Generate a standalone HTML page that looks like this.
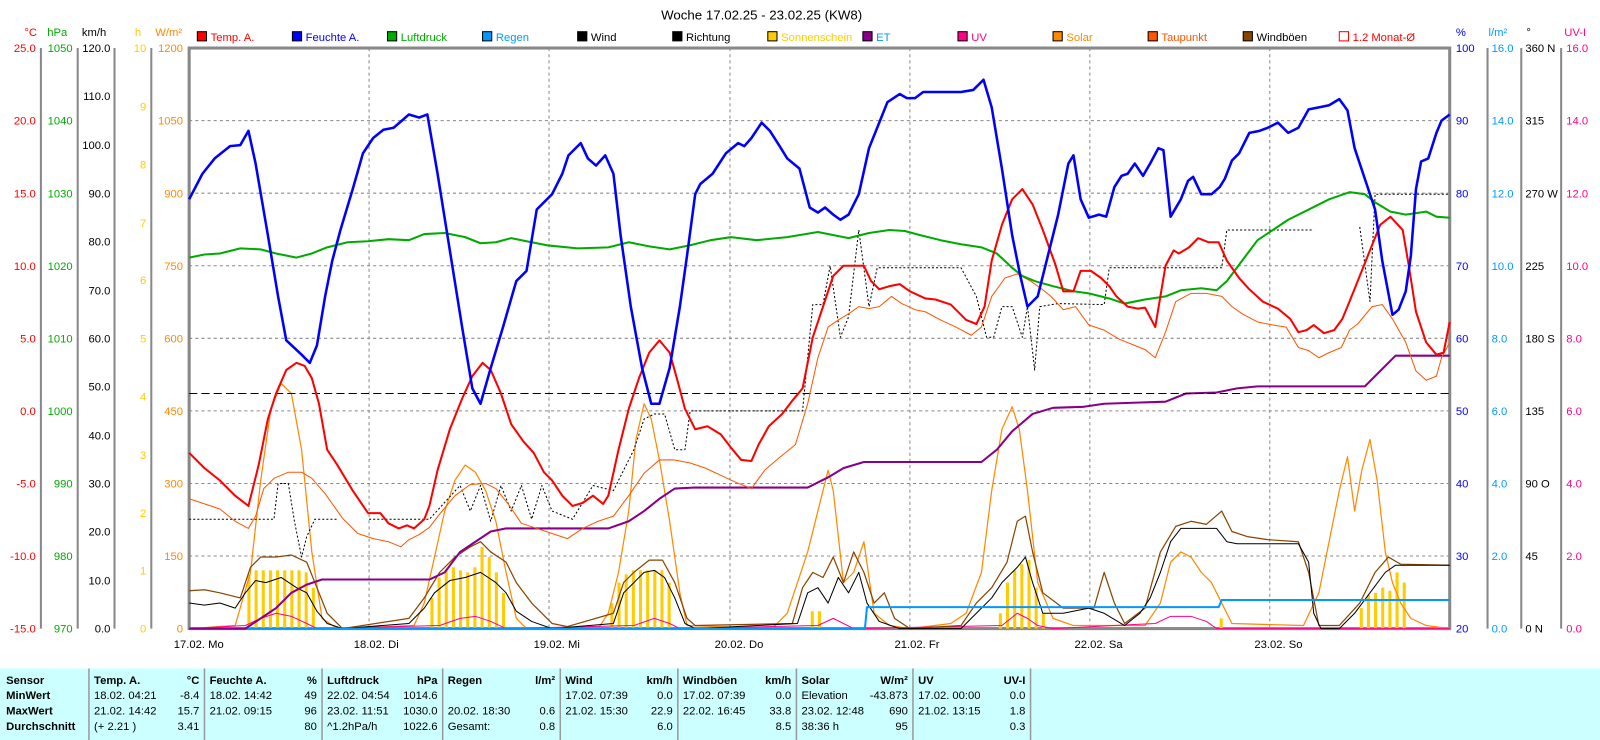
<!DOCTYPE html>
<html><head><meta charset="utf-8"><style>
html,body{margin:0;padding:0;background:#fff;}
svg{display:block;font-family:"Liberation Sans",sans-serif;}
</style></head><body>
<svg width="1600" height="740" viewBox="0 0 1565 724" preserveAspectRatio="none" xmlns="http://www.w3.org/2000/svg">
<rect width="1565" height="724" fill="#fff"/>
<text x="745" y="19" font-size="13" text-anchor="middle">Woche 17.02.25 - 23.02.25 (KW8)</text>
<!-- grid -->
<g stroke="#888" stroke-dasharray="3,3" stroke-width="1">
<line x1="185" y1="118" x2="1418" y2="118"/><line x1="185" y1="189" x2="1418" y2="189"/><line x1="185" y1="260" x2="1418" y2="260"/><line x1="185" y1="331" x2="1418" y2="331"/><line x1="185" y1="402" x2="1418" y2="402"/><line x1="185" y1="473" x2="1418" y2="473"/><line x1="185" y1="544" x2="1418" y2="544"/>
<line x1="361" y1="47" x2="361" y2="615"/><line x1="537" y1="47" x2="537" y2="615"/><line x1="714" y1="47" x2="714" y2="615"/><line x1="890" y1="47" x2="890" y2="615"/><line x1="1066" y1="47" x2="1066" y2="615"/><line x1="1242" y1="47" x2="1242" y2="615"/>
</g>
<rect x="185" y="47" width="1233" height="568" fill="none" stroke="#888" stroke-width="3"/>
<!-- left axes -->
<g stroke="#888" stroke-width="2"><line x1="40" y1="47" x2="40" y2="615"/><line x1="76" y1="47" x2="76" y2="615"/><line x1="112" y1="47" x2="112" y2="615"/><line x1="148" y1="47" x2="148" y2="615"/>
<line x1="1455" y1="47" x2="1455" y2="615"/><line x1="1488" y1="47" x2="1488" y2="615"/><line x1="1527" y1="47" x2="1527" y2="615"/></g>
<g font-size="11">
<text x="30" y="35" fill="#f00" text-anchor="middle">°C</text><text x="56" y="35" fill="#0a0" text-anchor="middle">hPa</text><text x="92" y="35" text-anchor="middle">km/h</text><text x="135" y="35" fill="#fc0" text-anchor="middle">h</text><text x="165" y="35" fill="#f80" text-anchor="middle">W/m²</text>
<text x="1424" y="35" fill="#00f">%</text><text x="1456" y="35" fill="#09f">l/m²</text><text x="1493" y="35">°</text><text x="1530" y="35" fill="#f08">UV-I</text>
</g>
<g font-size="11" text-anchor="end">
<g fill="#f00"><text x="35" y="51">25.0</text><text x="35" y="122">20.0</text><text x="35" y="193">15.0</text><text x="35" y="264">10.0</text><text x="35" y="335">5.0</text><text x="35" y="406">0.0</text><text x="35" y="477">-5.0</text><text x="35" y="548">-10.0</text><text x="35" y="619">-15.0</text></g>
<g fill="#0a0"><text x="71" y="51">1050</text><text x="71" y="122">1040</text><text x="71" y="193">1030</text><text x="71" y="264">1020</text><text x="71" y="335">1010</text><text x="71" y="406">1000</text><text x="71" y="477">990</text><text x="71" y="548">980</text><text x="71" y="619">970</text></g>
<g><text x="108" y="51">120.0</text><text x="108" y="98">110.0</text><text x="108" y="146">100.0</text><text x="108" y="193">90.0</text><text x="108" y="240">80.0</text><text x="108" y="288">70.0</text><text x="108" y="335">60.0</text><text x="108" y="382">50.0</text><text x="108" y="430">40.0</text><text x="108" y="477">30.0</text><text x="108" y="524">20.0</text><text x="108" y="572">10.0</text><text x="108" y="619">0.0</text></g>
<g fill="#fc0"><text x="143" y="51">10</text><text x="143" y="108">9</text><text x="143" y="165">8</text><text x="143" y="222">7</text><text x="143" y="278">6</text><text x="143" y="335">5</text><text x="143" y="392">4</text><text x="143" y="449">3</text><text x="143" y="506">2</text><text x="143" y="562">1</text><text x="143" y="619">0</text></g>
<g fill="#f80"><text x="179" y="51">1200</text><text x="179" y="122">1050</text><text x="179" y="193">900</text><text x="179" y="264">750</text><text x="179" y="335">600</text><text x="179" y="406">450</text><text x="179" y="477">300</text><text x="179" y="548">150</text><text x="179" y="619">0</text></g>
</g>
<g font-size="11">
<g fill="#00f"><text x="1424" y="51">100</text><text x="1424" y="122">90</text><text x="1424" y="193">80</text><text x="1424" y="264">70</text><text x="1424" y="335">60</text><text x="1424" y="406">50</text><text x="1424" y="477">40</text><text x="1424" y="548">30</text><text x="1424" y="619">20</text></g>
<g fill="#09f"><text x="1459" y="51">16.0</text><text x="1459" y="122">14.0</text><text x="1459" y="193">12.0</text><text x="1459" y="264">10.0</text><text x="1459" y="335">8.0</text><text x="1459" y="406">6.0</text><text x="1459" y="477">4.0</text><text x="1459" y="548">2.0</text><text x="1459" y="619">0.0</text></g>
<g><text x="1492" y="51">360 N</text><text x="1492" y="122">315</text><text x="1492" y="193">270 W</text><text x="1492" y="264">225</text><text x="1492" y="335">180 S</text><text x="1492" y="406">135</text><text x="1492" y="477">90  O</text><text x="1492" y="548">45</text><text x="1492" y="619">0   N</text></g>
<g fill="#f08"><text x="1532" y="51">16.0</text><text x="1532" y="122">14.0</text><text x="1532" y="193">12.0</text><text x="1532" y="264">10.0</text><text x="1532" y="335">8.0</text><text x="1532" y="406">6.0</text><text x="1532" y="477">4.0</text><text x="1532" y="548">2.0</text><text x="1532" y="619">0.0</text></g>
</g>
<!-- legend -->
<g font-size="11" stroke-width="1">
<rect x="193" y="31" width="9" height="9" fill="#f00" stroke="#000"/><text x="206" y="40" fill="#f00">Temp. A.</text>
<rect x="286" y="31" width="9" height="9" fill="#00f" stroke="#000"/><text x="299" y="40" fill="#00f">Feuchte A.</text>
<rect x="379" y="31" width="9" height="9" fill="#0a0" stroke="#000"/><text x="392" y="40" fill="#0a0">Luftdruck</text>
<rect x="472" y="31" width="9" height="9" fill="#09f" stroke="#000"/><text x="485" y="40" fill="#09f">Regen</text>
<rect x="565" y="31" width="9" height="9" fill="#000" stroke="#000"/><text x="578" y="40">Wind</text>
<rect x="658" y="31" width="9" height="9" fill="#000" stroke="#000"/><text x="671" y="40">Richtung</text>
<rect x="751" y="31" width="9" height="9" fill="#fc0" stroke="#000"/><text x="764" y="40" fill="#fc0">Sonnenschein</text>
<rect x="844" y="31" width="9" height="9" fill="#808" stroke="#000"/><text x="857" y="40" fill="#09f">ET</text>
<rect x="937" y="31" width="9" height="9" fill="#f08" stroke="#000"/><text x="950" y="40" fill="#f08">UV</text>
<rect x="1030" y="31" width="9" height="9" fill="#f80" stroke="#000"/><text x="1043" y="40" fill="#f80">Solar</text>
<rect x="1123" y="31" width="9" height="9" fill="#f50" stroke="#000"/><text x="1136" y="40" fill="#f50">Taupunkt</text>
<rect x="1216" y="31" width="9" height="9" fill="#840" stroke="#000"/><text x="1229" y="40">Windböen</text>
<rect x="1310" y="31" width="9" height="9" fill="none" stroke="#f00"/><text x="1323" y="40" fill="#f00">1.2 Monat-Ø</text>
</g>
<!-- x labels -->
<g font-size="11"><text x="170" y="634">17.02.  Mo</text><text x="346" y="634">18.02.  Di</text><text x="522" y="634">19.02.  Mi</text><text x="699" y="634">20.02.  Do</text><text x="875" y="634">21.02.  Fr</text><text x="1051" y="634">22.02.  Sa</text><text x="1227" y="634">23.02.  So</text></g>
<!-- sunshine bars -->
<g fill="#fc0">
<rect x="242" y="562" width="3" height="53"/><rect x="249" y="558" width="3" height="57"/><rect x="256" y="558" width="3" height="57"/><rect x="263" y="558" width="3" height="57"/><rect x="270" y="558" width="3" height="57"/><rect x="277" y="558" width="3" height="57"/><rect x="284" y="558" width="3" height="57"/><rect x="291" y="558" width="3" height="57"/><rect x="298" y="560" width="3" height="55"/><rect x="305" y="575" width="3" height="40"/>
<rect x="421" y="585" width="3" height="30"/><rect x="428" y="565" width="3" height="50"/><rect x="435" y="558" width="3" height="57"/><rect x="442" y="555" width="3" height="60"/><rect x="449" y="558" width="3" height="57"/><rect x="456" y="560" width="3" height="55"/><rect x="463" y="555" width="3" height="60"/><rect x="470" y="535" width="3" height="80"/><rect x="477" y="545" width="3" height="70"/><rect x="484" y="560" width="3" height="55"/><rect x="491" y="580" width="3" height="35"/>
<rect x="597" y="590" width="3" height="25"/><rect x="604" y="570" width="3" height="45"/><rect x="611" y="562" width="3" height="53"/><rect x="618" y="558" width="3" height="57"/><rect x="625" y="558" width="3" height="57"/><rect x="632" y="558" width="3" height="57"/><rect x="639" y="558" width="3" height="57"/><rect x="646" y="558" width="3" height="57"/><rect x="653" y="570" width="3" height="45"/>
<rect x="793" y="598" width="3" height="17"/><rect x="800" y="598" width="3" height="17"/>
<rect x="977" y="600" width="3" height="15"/><rect x="984" y="570" width="3" height="45"/><rect x="991" y="558" width="3" height="57"/><rect x="998" y="552" width="3" height="63"/><rect x="1005" y="548" width="3" height="67"/><rect x="1012" y="575" width="3" height="40"/><rect x="1019" y="600" width="3" height="15"/>
<rect x="1193" y="605" width="3" height="10"/>
<rect x="1330" y="595" width="3" height="20"/><rect x="1337" y="582" width="3" height="33"/><rect x="1344" y="580" width="3" height="35"/><rect x="1351" y="575" width="3" height="40"/><rect x="1358" y="578" width="3" height="37"/><rect x="1365" y="560" width="3" height="55"/><rect x="1372" y="570" width="3" height="45"/>
</g>
<g fill="none" stroke-linejoin="round">
<!-- solar -->
<polyline stroke="#f80" stroke-width="1.2" points="185,615 230,612 245,560 255,470 265,400 275,375 285,385 295,440 305,540 315,605 330,615 405,612 415,590 425,545 435,500 445,470 455,455 465,462 475,480 485,510 495,560 505,605 515,615 585,615 595,600 605,560 615,500 622,430 630,395 637,410 645,450 655,510 665,580 672,612 755,615 770,600 790,540 800,500 810,460 815,480 825,570 835,560 845,530 855,600 870,612 890,615 930,610 945,600 960,560 970,480 980,420 990,398 997,420 1005,480 1015,570 1030,605 1050,612 1120,612 1135,590 1145,550 1155,540 1165,545 1175,560 1185,570 1195,590 1205,610 1275,612 1290,580 1300,530 1310,480 1318,447 1325,500 1332,460 1340,430 1347,470 1355,540 1362,570 1370,590 1380,605 1395,612 1418,615"/>
<!-- UV -->
<polyline stroke="#f08" stroke-width="1" points="185,615 240,612 255,605 270,600 285,603 300,610 310,615 430,612 450,605 465,603 480,608 495,615 620,612 640,605 655,610 665,615 800,612 815,605 825,610 835,615 980,612 995,600 1005,605 1015,612 1030,615 1130,610 1145,603 1165,603 1180,608 1190,615 1418,615"/>
<!-- gusts -->
<polyline stroke="#840" stroke-width="1.2" points="185,578 200,577 215,580 235,585 245,555 255,545 270,545 285,543 300,550 310,575 320,600 335,615 400,605 415,585 430,560 445,545 460,535 470,530 480,540 495,550 505,570 520,590 540,610 555,613 600,600 610,570 620,560 635,548 648,548 660,570 672,605 680,612 775,610 785,575 795,560 805,565 815,545 825,570 835,540 845,560 855,590 865,580 875,605 890,615 940,612 955,590 970,575 985,550 995,510 1003,505 1010,540 1020,580 1040,595 1070,595 1080,560 1090,590 1100,610 1120,595 1135,540 1150,515 1165,510 1180,513 1195,500 1205,520 1220,525 1240,528 1270,530 1280,560 1290,612 1310,612 1330,590 1345,560 1358,545 1370,552 1418,553"/>
<!-- wind -->
<polyline stroke="#000" stroke-width="1" points="185,590 200,592 215,590 230,595 240,580 250,568 260,570 275,565 290,575 300,580 310,598 320,610 335,615 400,610 415,595 425,580 440,568 455,565 470,560 485,570 495,580 505,598 520,608 540,615 600,610 610,580 620,570 630,560 640,558 650,565 660,585 670,610 680,615 780,610 790,580 800,575 810,590 820,565 830,580 840,560 848,590 860,608 880,615 940,615 955,600 970,585 980,570 995,555 1003,545 1010,570 1020,600 1040,600 1065,595 1080,600 1100,612 1115,600 1125,585 1135,560 1145,530 1155,517 1190,517 1200,530 1210,532 1270,532 1280,550 1285,600 1292,615 1310,615 1325,600 1340,580 1355,560 1365,553 1418,553"/>
<!-- rain -->
<polyline stroke="#09f" stroke-width="2" points="185,615 846,615 848,594 1192,594 1195,587 1418,587"/>
<!-- ET -->
<polyline stroke="#808" stroke-width="2" points="185,615 240,615 255,605 270,595 285,580 300,572 315,567 420,567 435,560 450,540 465,530 480,520 495,517 595,517 615,510 630,500 645,488 660,478 680,477 790,477 810,467 825,458 845,452 960,452 975,440 990,422 1010,405 1030,399 1060,398 1080,395 1140,393 1160,385 1190,384 1210,380 1230,378 1335,378 1350,363 1365,348 1418,348"/>
<!-- direction -->
<polyline stroke="#000" stroke-width="1" stroke-dasharray="2,2" points="185,508 268,508 272,473 282,473 288,510 295,545 300,525 308,508 330,508"/>
<polyline stroke="#000" stroke-width="1" stroke-dasharray="2,2" points="361,508 420,508 450,475 460,500 470,475 480,510 490,475 500,500 510,475 520,508 530,475 540,500 560,508 580,475 600,480 620,440 630,410 640,405 650,405 660,440 670,440 675,402 785,402 795,298 805,298 812,260 822,330 830,310 840,225 850,300 858,262 940,262 955,290 965,330 972,330 980,300 990,300 1000,330 1005,300 1012,362 1017,300 1035,297 1080,298 1085,262 1195,262 1200,225 1285,225"/>
<polyline stroke="#000" stroke-width="1" stroke-dasharray="2,2" points="1330,222 1340,295 1345,190 1418,190"/>
<!-- monthly avg -->
<line x1="185" y1="385" x2="1418" y2="385" stroke="#000" stroke-dasharray="8,4"/>
<!-- dew point -->
<polyline stroke="#f50" stroke-width="1" points="185,488 200,493 215,498 230,510 243,517 250,505 258,478 268,468 282,462 295,462 305,468 318,483 335,507 350,522 365,527 380,530 392,535 400,528 410,523 420,516 430,503 445,485 460,474 475,473 485,478 497,493 510,512 525,517 540,522 555,527 570,517 585,510 600,505 615,485 630,463 645,450 660,450 675,453 690,458 705,465 720,472 735,478 748,460 762,448 778,435 790,395 800,350 810,320 820,313 830,307 840,300 850,302 860,300 872,290 882,297 895,303 905,305 920,313 935,320 950,328 960,320 970,290 983,272 995,268 1008,275 1018,282 1028,290 1040,303 1052,300 1065,318 1080,323 1095,332 1110,338 1120,342 1130,350 1140,325 1150,295 1165,287 1180,287 1195,290 1205,300 1215,307 1230,315 1245,318 1258,320 1270,340 1280,343 1290,350 1300,345 1312,340 1320,323 1328,317 1342,300 1352,298 1362,312 1375,335 1385,363 1395,372 1405,368 1410,350 1418,335"/>
<!-- pressure -->
<polyline stroke="#0a0" stroke-width="2" points="185,252 200,249 215,248 235,243 255,244 270,248 290,252 305,248 320,242 340,237 360,236 380,234 400,235 415,229 435,228 455,232 470,238 485,237 500,233 515,236 535,240 565,243 595,242 615,237 635,241 655,244 675,240 695,235 715,232 740,235 770,232 800,227 830,233 850,228 870,225 885,226 900,230 920,235 940,239 960,242 975,248 990,262 1000,270 1012,275 1030,280 1050,285 1065,287 1085,292 1100,297 1120,293 1140,290 1155,284 1175,282 1190,284 1200,275 1215,255 1230,235 1245,225 1260,215 1280,205 1300,195 1320,188 1335,190 1345,198 1360,207 1375,210 1395,207 1405,212 1418,213"/>
<!-- temp -->
<polyline stroke="#f00" stroke-width="2" points="185,443 200,458 215,470 230,485 243,495 253,455 262,410 270,385 280,362 290,355 298,358 305,370 312,395 320,440 330,455 345,480 360,502 372,502 380,512 390,517 398,514 405,517 415,508 420,495 428,460 440,420 452,390 462,368 472,355 480,362 490,385 500,415 512,432 522,443 532,462 540,470 550,485 560,495 570,492 580,485 590,493 595,485 605,440 615,400 625,370 635,345 645,333 655,345 662,370 670,400 680,420 692,417 705,425 715,438 725,450 735,451 742,435 752,417 765,405 775,392 785,380 795,330 805,300 815,270 825,260 845,260 852,275 860,283 870,280 880,278 890,285 905,292 915,293 930,298 945,313 955,317 963,300 970,255 980,220 990,195 1000,185 1010,200 1020,225 1032,258 1040,285 1050,285 1057,265 1067,265 1077,272 1085,280 1092,290 1103,300 1113,302 1120,301 1130,320 1140,260 1148,245 1153,248 1163,242 1172,233 1182,237 1192,237 1200,255 1212,272 1222,283 1235,295 1250,302 1262,312 1270,325 1278,323 1285,318 1295,326 1305,323 1313,312 1320,295 1330,270 1340,245 1350,220 1360,212 1372,225 1378,260 1385,305 1395,335 1405,347 1412,345 1418,315"/>
<!-- humidity -->
<polyline stroke="#00f" stroke-width="2.5" points="185,195 198,170 210,155 225,143 235,142 243,128 250,160 262,230 272,290 280,333 295,347 303,355 310,338 318,290 325,255 333,225 345,185 355,150 365,135 375,127 385,125 392,119 400,112 410,115 418,112 428,170 440,245 452,320 462,380 470,395 480,360 492,320 505,275 515,265 525,205 540,190 550,170 556,152 568,140 575,155 583,162 592,152 600,170 607,230 617,300 628,360 637,395 645,395 655,360 665,300 672,250 680,190 685,180 697,170 710,150 722,140 728,143 735,135 745,120 753,128 762,142 770,155 782,165 792,203 800,208 807,203 815,210 822,215 830,210 840,190 850,145 860,120 868,100 880,92 887,96 895,96 903,90 940,90 952,88 962,78 970,105 980,165 990,230 998,270 1005,300 1015,290 1025,250 1035,210 1045,160 1050,152 1057,195 1065,213 1075,210 1082,212 1090,183 1097,172 1103,170 1110,160 1118,172 1125,160 1133,145 1138,147 1145,212 1155,195 1162,177 1167,173 1175,190 1185,190 1193,183 1198,175 1205,157 1212,150 1222,130 1232,128 1240,125 1250,120 1260,130 1270,125 1280,107 1290,105 1300,103 1310,97 1318,108 1325,145 1335,175 1345,205 1352,255 1362,308 1368,303 1375,285 1380,250 1385,185 1390,158 1397,155 1405,130 1410,118 1418,112"/>
</g>
<!-- table -->
<rect x="0" y="654" width="1565" height="70" fill="#ccffff"/>
<g stroke="#999" stroke-width="1.5"><line x1="87" y1="654" x2="87" y2="724"/><line x1="200" y1="654" x2="200" y2="724"/><line x1="315" y1="654" x2="315" y2="724"/><line x1="433" y1="654" x2="433" y2="724"/><line x1="548" y1="654" x2="548" y2="724"/><line x1="663" y1="654" x2="663" y2="724"/><line x1="779" y1="654" x2="779" y2="724"/><line x1="893" y1="654" x2="893" y2="724"/><line x1="1008" y1="654" x2="1008" y2="724"/></g>
<g font-size="11">
<g font-weight="bold"><text x="6" y="669">Sensor</text><text x="6" y="684">MinWert</text><text x="6" y="699">MaxWert</text><text x="6" y="714">Durchschnitt</text>
<text x="92" y="669">Temp. A.</text><text x="205" y="669">Feuchte A.</text><text x="320" y="669">Luftdruck</text><text x="438" y="669">Regen</text><text x="553" y="669">Wind</text><text x="668" y="669">Windböen</text><text x="784" y="669">Solar</text><text x="898" y="669">UV</text>
<g text-anchor="end"><text x="195" y="669">°C</text><text x="310" y="669">%</text><text x="428" y="669">hPa</text><text x="543" y="669">l/m²</text><text x="658" y="669">km/h</text><text x="774" y="669">km/h</text><text x="888" y="669">W/m²</text><text x="1003" y="669">UV-I</text></g></g>
<text x="92" y="684">18.02.  04:21</text><text x="92" y="699">21.02.  14:42</text><text x="92" y="714">(+ 2.21 )</text>
<text x="205" y="684">18.02.  14:42</text><text x="205" y="699">21.02.  09:15</text>
<text x="320" y="684">22.02.  04:54</text><text x="320" y="699">23.02.  11:51</text><text x="320" y="714">^1.2hPa/h</text>
<text x="438" y="699">20.02.  18:30</text><text x="438" y="714">Gesamt:</text>
<text x="553" y="684">17.02.  07:39</text><text x="553" y="699">21.02.  15:30</text>
<text x="668" y="684">17.02.  07:39</text><text x="668" y="699">22.02.  16:45</text>
<text x="784" y="684">Elevation</text><text x="784" y="699">23.02.  12:48</text><text x="784" y="714">38:36 h</text>
<text x="898" y="684">17.02.  00:00</text><text x="898" y="699">21.02.  13:15</text>
<g text-anchor="end">
<text x="195" y="684">-8.4</text><text x="195" y="699">15.7</text><text x="195" y="714">3.41</text>
<text x="310" y="684">49</text><text x="310" y="699">96</text><text x="310" y="714">80</text>
<text x="428" y="684">1014.6</text><text x="428" y="699">1030.0</text><text x="428" y="714">1022.6</text>
<text x="543" y="699">0.6</text><text x="543" y="714">0.8</text>
<text x="658" y="684">0.0</text><text x="658" y="699">22.9</text><text x="658" y="714">6.0</text>
<text x="774" y="684">0.0</text><text x="774" y="699">33.8</text><text x="774" y="714">8.5</text>
<text x="888" y="684">-43.873</text><text x="888" y="699">690</text><text x="888" y="714">95</text>
<text x="1003" y="684">0.0</text><text x="1003" y="699">1.8</text><text x="1003" y="714">0.3</text>
</g></g>
</svg>
</body></html>
